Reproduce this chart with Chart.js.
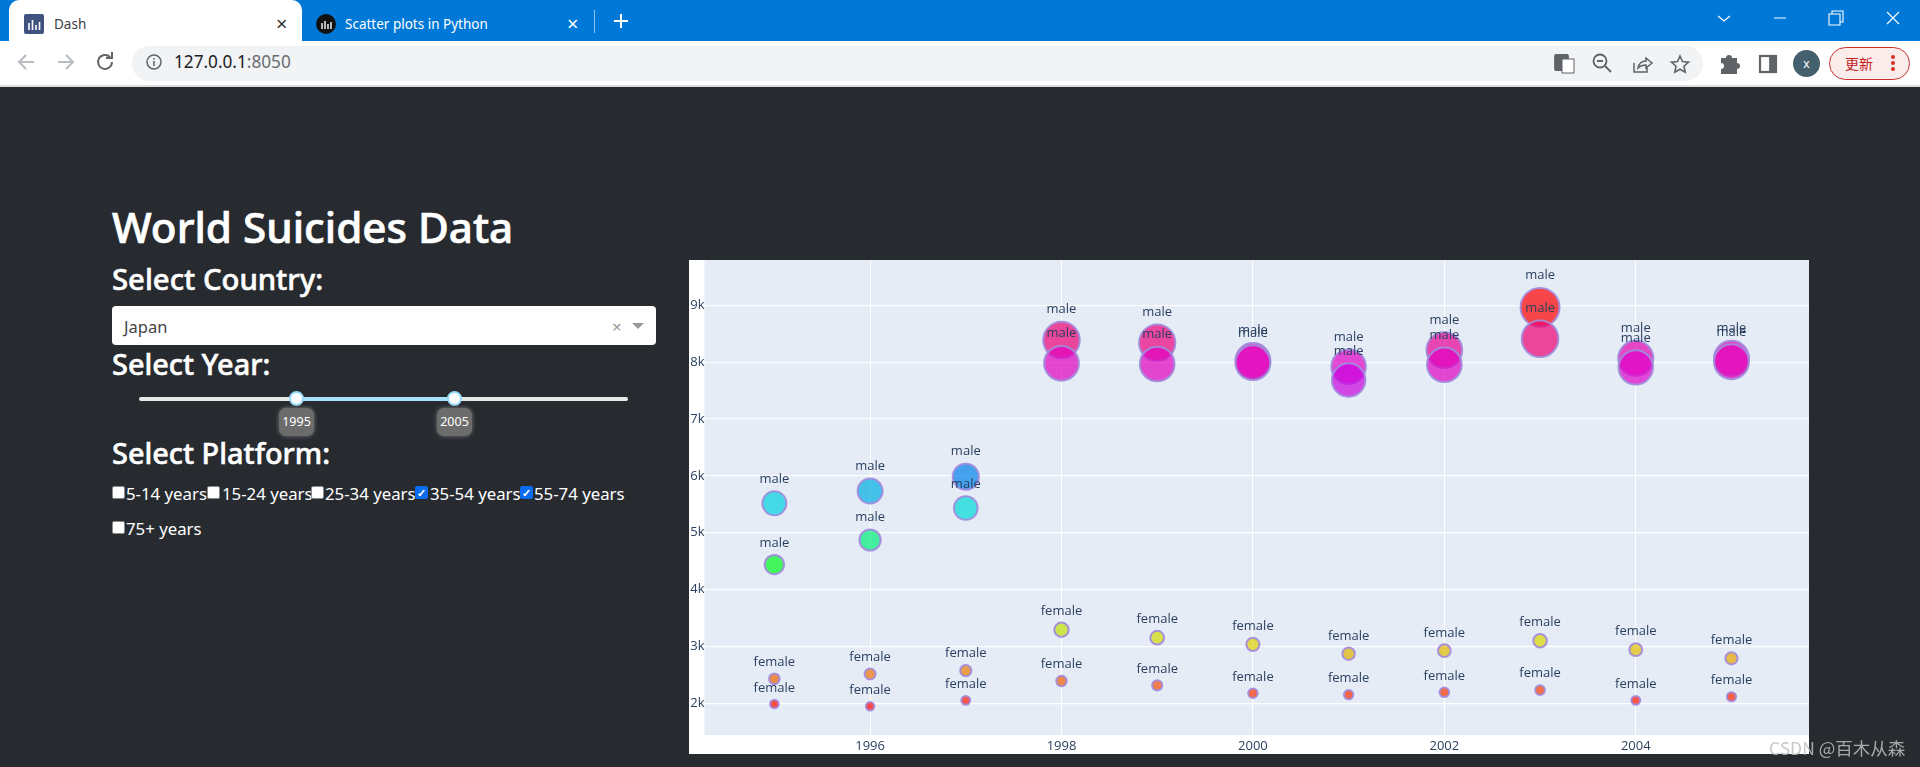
<!DOCTYPE html>
<html>
<head>
<meta charset="utf-8">
<title>Dash</title>
<script src="https://cdn.jsdelivr.net/npm/chart.js@4"></script>
<style>
    html, body { margin:0; padding:0; width:1920px; height:767px; overflow:hidden; background:#272b30; font-family:"Noto Sans", sans-serif; }
    .abs { position:absolute; white-space:nowrap; }
    .head { position:absolute; left:112px; color:#fff; font-weight:500; font-size:28.9px; line-height:40px; white-space:nowrap; -webkit-text-stroke:0.55px #fff; }
    .cb { position:absolute; width:13px; height:13px; background:#fff; border-radius:2px; border:1px solid #8a8a8a; box-sizing:border-box; }
    .cb.on { background:#0b6cf0; border-color:#0b6cf0; color:#fff; font-size:11px; line-height:11px; text-align:center; font-weight:700; }
    .lbl { position:absolute; color:#fff; font-size:16.8px; line-height:24px; white-space:nowrap; }
    .pop { position:absolute; top:408px; width:35px; height:28px; background:#6c6c6c; border-radius:7px; box-shadow:0 0 4px #777; color:#fff; font-size:12.5px; line-height:28px; text-align:center; }
    .knob { position:absolute; top:391px; width:11px; height:11px; background:#fff; border:2.5px solid #96dbfa; border-radius:50%; }
    svg { position:absolute; overflow:visible; }
    #chart { position:absolute; left:689px; top:260px; }
</style>
</head>
<body>
<!-- browser chrome -->
<div class="abs" style="left:0;top:0;width:1920px;height:41px;background:#0078d7"></div>
<div class="abs" style="left:9px;top:0;width:293px;height:41px;background:#fff;border-radius:10px 10px 0 0"></div>
<div class="abs" style="left:0;top:41px;width:1920px;height:44px;background:#fff"></div>
<div class="abs" style="left:0;top:85px;width:1920px;height:2px;background:#dcdfe2"></div>
<div class="abs" style="left:132px;top:46px;width:1571px;height:35px;background:#f1f3f4;border-radius:18px"></div>

<div class="abs" style="left:24px;top:14px;width:20px;height:20px;background:#3f5280;border-radius:2px"></div>
<svg style="left:24px;top:14px" width="20" height="20" stroke="#fff" stroke-width="1.6"><path d="M5 9v7M8.5 6v10M12 11v5M15.5 8v8"/></svg>
<div class="abs" style="left:54px;top:14px;font-size:13.5px;line-height:20px;color:#3c4043">Dash</div>
<div class="abs" style="left:276px;top:12px;font-size:20px;line-height:24px;color:#333">×</div>
<div class="abs" style="left:316px;top:14px;width:20px;height:20px;background:#111;border-radius:50%"></div>
<svg style="left:316px;top:14px" width="20" height="20" stroke="#fff" stroke-width="1.4"><path d="M6 9v6M9 7v8M12 10v5M15 8v7"/></svg>
<div class="abs" style="left:345px;top:14px;font-size:13.5px;line-height:20px;color:#fff">Scatter plots in Python</div>
<div class="abs" style="left:567px;top:12px;font-size:20px;line-height:24px;color:#fff">×</div>
<div class="abs" style="left:594px;top:10px;width:1px;height:23px;background:#8fc4ee"></div>
<svg style="left:612px;top:12px" width="18" height="18" stroke="#fff" stroke-width="2"><path d="M9 2v14M2 9h14"/></svg>

<svg style="left:0;top:41px" width="220" height="44" fill="none" stroke-width="2">
    <path d="M34 21H20M26 14l-7 7 7 7" stroke="#b9bcc0"/>
    <path d="M58 21h14M66 14l7 7-7 7" stroke="#b9bcc0"/>
    <path d="M112 21a7 7 0 1 1-2-5M112 11v6h-6" stroke="#5f6368"/>
    <circle cx="154" cy="21" r="7" stroke="#5f6368" stroke-width="1.5"/>
    <path d="M154 20v5M154 17v1.5" stroke="#5f6368" stroke-width="1.5"/>
</svg>
<div class="abs" style="left:174px;top:50px;font-size:17.2px;line-height:24px;color:#202124">127.0.0.1<span style="color:#6a6e72">:8050</span></div>

<svg style="left:1700px;top:0" width="220" height="36" fill="none" stroke="#fff" stroke-width="1.1">
    <path d="M18 16l6 5 6-5M74 18h12M129 14h11v11h-11zM132 14v-3h11v11h-3M187 12l12 12M199 12l-12 12"/>
</svg>
<svg style="left:1550px;top:48px" width="240" height="32" fill="none" stroke="#5f6368" stroke-width="1.8">
    <rect x="5" y="7" width="13" height="15" rx="1" fill="#5f6368"/>
    <rect x="12" y="11" width="12" height="14" fill="#fff" stroke-width="1"/>
    <circle cx="50" cy="13" r="6.5"/><path d="M47 13h6M55 18l6 6"/>
    <path d="M84 15v9h13v-5M88 20c1-5 4-7 8-7V10l6 5-6 5v-3c-3 0-6 1-8 3z" stroke-width="1.5"/>
    <path d="M130 8l2.5 5.5 6 .7-4.5 4 1.2 6-5.200-3-5.200 3 1.200-6-4.500-4 6-.7z" stroke-width="1.6"/>
    <path d="M171 10h5a3 3 0 0 1 6 0h5v5a3 3 0 0 1 0 6v5h-16v-5a3 3 0 0 0 0-6z" fill="#5f6368" stroke="none"/>
    <rect x="210" y="8" width="16" height="16" stroke-width="2.200"/><rect x="220" y="8" width="6" height="16" fill="#5f6368"/>
</svg>
<div class="abs" style="left:1793px;top:50px;width:27px;height:27px;border-radius:50%;background:#44606e;color:#fff;font-size:12px;line-height:27px;text-align:center">x</div>
<div class="abs" style="left:1829px;top:47px;width:79px;height:31px;border:1px solid #c9302c;border-radius:17px;background:#fbecec"></div>
<div class="abs" style="left:1845px;top:51px;font-family:'Noto Sans CJK SC';font-size:14px;line-height:24px;color:#c5221f">更新</div>
<svg style="left:1889px;top:53px" width="8" height="20" fill="#d93025"><circle cx="4" cy="4" r="2"/><circle cx="4" cy="10" r="2"/><circle cx="4" cy="16" r="2"/></svg>

<!-- left panel -->
<div class="head" style="top:198px;font-size:42.2px;line-height:58px;-webkit-text-stroke:0.7px #fff">World Suicides Data</div>
<div class="head" style="top:259px;font-size:29.300px">Select Country:</div>
<div class="abs" style="left:112px;top:306px;width:544px;height:39px;background:#fff;border-radius:4px"></div>
<div class="abs" style="left:124px;top:315px;font-size:16.5px;line-height:24px;color:#444">Japan</div>
<div class="abs" style="left:612px;top:315px;font-size:17px;line-height:24px;color:#999">×</div>
<svg style="left:632px;top:322px" width="12" height="8" fill="#999"><path d="M0 1h12L6 7z"/></svg>
<div class="head" style="top:344px">Select Year:</div>
<div class="abs" style="left:139px;top:397px;width:489px;height:4px;background:#e9e9e9;border-radius:2px"></div>
<div class="abs" style="left:297px;top:397px;width:157px;height:4px;background:#abe2fb"></div>
<div class="knob" style="left:289px"></div>
<div class="knob" style="left:447px"></div>
<div class="pop" style="left:279px">1995</div>
<div class="pop" style="left:437px">2005</div>
<div class="head" style="top:433px">Select Platform:</div>
<div class="cb" style="left:112px;top:486px"></div><div class="lbl" style="left:126px;top:482px">5-14 years</div>
<div class="cb" style="left:207px;top:486px"></div><div class="lbl" style="left:222px;top:482px">15-24 years</div>
<div class="cb" style="left:311px;top:486px"></div><div class="lbl" style="left:325px;top:482px">25-34 years</div>
<div class="cb on" style="left:415px;top:486px">✓</div><div class="lbl" style="left:430px;top:482px">35-54 years</div>
<div class="cb on" style="left:520px;top:486px">✓</div><div class="lbl" style="left:534px;top:482px">55-74 years</div>
<div class="cb" style="left:112px;top:521px"></div><div class="lbl" style="left:126px;top:517px">75+ years</div>

<canvas id="chart" width="1120" height="494"></canvas>
<div class="abs" style="left:1769px;top:736px;font-family:'Noto Sans CJK SC';font-size:17.5px;line-height:24px;color:rgba(190,190,190,.85)">CSDN @百木从森</div>

<script>
// data
const years = [1995, 1996, 1997, 1998, 1999, 2000, 2001, 2002, 2003, 2004, 2005];
const male5574 = [5517, 5733, 5985, 8389, 8342, 8030, 7920, 8213, 8964, 8067, 8067];
const male3554 = [4441, 4872, 5435, 7980, 7967, 7990, 7686, 7955, 8412, 7909, 8008];
const female5574 = [2433, 2515, 2574, 3294, 3154, 3037, 2873, 2926, 3101, 2943, 2791];
const female3554 = [1988, 1947, 2052, 2392, 2316, 2176, 2152, 2193, 2234, 2052, 2116];
const xTicks = [1996, 1998, 2000, 2002, 2004];
const yTicks = [2000, 3000, 4000, 5000, 6000, 7000, 8000, 9000];

// circular hsv colour scale over the value range, like the plotly one
const hueMin = 1947, hueMax = 8964;
function valueColor(v) {
    const h = (v - hueMin) / (hueMax - hueMin) * 6;
    const x = 255 * (1 - Math.abs(h % 2 - 1));
    const rgb = [[255, x, 0], [x, 255, 0], [0, 255, x], [0, x, 255], [x, 0, 255], [255, 0, x]][Math.min(5, Math.floor(h))];
    // yellow, cyan and magenta are a bit darker on this scale
    const dim = 1 - 0.14 * x / 255;
    return `rgba(${rgb.map(c => Math.round(c * dim)).join(',')},0.7)`;
}

function series(values, sex) {
    return {
        label: sex,
        data: values.map((v, i) => ({ x: years[i], y: v })),
        pointRadius: c => c.raw ? c.raw.y / 460 : 4,
        pointBackgroundColor: c => c.raw ? valueColor(c.raw.y) : '#000',
        pointBorderColor: 'rgba(162,138,220,0.92)',
        pointBorderWidth: 2
    };
}

const plotBackground = {
    id: 'plotBackground',
    beforeDraw(chart) {
        const { ctx, chartArea: a } = chart;
        ctx.fillStyle = '#fff';
        ctx.fillRect(0, 0, chart.width, chart.height);
        ctx.fillStyle = '#e5ecf6';
        ctx.fillRect(a.left, a.top, a.right - a.left, a.bottom - a.top);
    }
};

// "male" / "female" text above every marker
const pointText = {
    id: 'pointText',
    afterDatasetsDraw(chart) {
        const ctx = chart.ctx;
        ctx.save();
        ctx.font = '13px "Open Sans"';
        ctx.fillStyle = '#2a3f5f';
        ctx.textAlign = 'center';
        ctx.textBaseline = 'middle';
        chart.data.datasets.forEach((ds, i) => {
            chart.getDatasetMeta(i).data.forEach(p => {
                const r = p.options.radius + 1;
                ctx.fillText(ds.label, p.x, p.y - (r * 1.07 + 10));
            });
        });
        ctx.restore();
    }
};

new Chart(document.getElementById('chart'), {
    type: 'scatter',
    data: {
        datasets: [
            series(male3554, 'male'),
            series(male5574, 'male'),
            series(female5574, 'female'),
            series(female3554, 'female')
        ]
    },
    options: {
        responsive: false,
        animation: false,
        clip: false,
        layout: { autoPadding: false, padding: 0 },
        plugins: { legend: { display: false }, tooltip: { enabled: false } },
        scales: {
            x: {
                type: 'linear',
                min: 1994.27,
                max: 2005.81,
                afterFit: s => { s.height = 19; s.paddingLeft = 0; s.paddingRight = 0; },
                afterBuildTicks: s => { s.ticks = xTicks.map(v => ({ value: v })); },
                grid: { color: '#fff', lineWidth: 1, drawTicks: false },
                border: { display: false },
                ticks: { callback: v => String(v), font: { family: 'Open Sans', size: 13 }, color: '#2a3f5f', padding: 3, maxRotation: 0 }
            },
            y: {
                min: 1443,
                max: 9797,
                // no room for the top label, the plot starts at the canvas edge
                afterFit: s => { s.width = 15.5; s.paddingTop = 0; s.paddingBottom = 0; },
                afterBuildTicks: s => { s.ticks = yTicks.map(v => ({ value: v })); },
                grid: { color: '#fff', lineWidth: 1.2, drawTicks: false },
                border: { display: false },
                ticks: { callback: v => (v / 1000) + 'k', font: { family: 'Open Sans', size: 13 }, color: '#2a3f5f', padding: 0 }
            }
        }
    },
    plugins: [plotBackground, pointText]
});
</script>
</body>
</html>
